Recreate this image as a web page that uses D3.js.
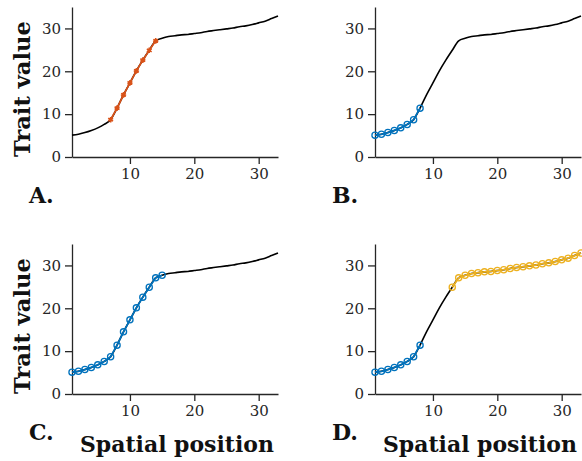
<!DOCTYPE html>
<html>
<head>
<meta charset="utf-8">
<script src="https://cdn.jsdelivr.net/npm/d3@7"></script>
<style>
  body { margin: 0; background: #fff; }
  .axis path, .axis line { stroke: #262626; stroke-width: 1.3; }
  .axis text { font-family: "DejaVu Serif", serif; font-size: 15px; fill: #262626; }
  .lbl { font-family: "DejaVu Serif", serif; font-weight: bold; fill: #111; }
</style>
</head>
<body>
<svg id="chart" width="582" height="461"></svg>
<script>
// spatial positions and the trait value at each one
var positions = [1, 2, 3, 4, 5, 6, 7, 8, 9, 10, 11, 12, 13, 14, 15, 16, 17,
                 18, 19, 20, 21, 22, 23, 24, 25, 26, 27, 28, 29, 30, 31, 32, 33];
var traitValues = [5.1, 5.3, 5.7, 6.2, 6.8, 7.6, 8.7, 11.4, 14.5, 17.3, 20.1, 22.6, 24.9,
                   27.1, 27.7, 28.1, 28.3, 28.5, 28.6, 28.8, 29.0, 29.3, 29.5, 29.7, 29.9,
                   30.1, 30.4, 30.6, 30.9, 31.3, 31.7, 32.3, 32.9];

// highlighted stretches per panel: [first position, last position, kind]
var panelA = [[7, 14, 'orange']];
var panelB = [[1, 8, 'blue']];
var panelC = [[1, 15, 'blue']];
var panelD = [[1, 8, 'blue'], [13, 33, 'yellow']];

var xTicks = [10, 20, 30];
var yTicks = [0, 10, 20, 30];
var xDomain = [1, 33];
var yDomain = [0, 35];

var colors = { orange: '#D95319', blue: '#0072BD', yellow: '#EDB120' };

var data = positions.map(function(p, i) { return { x: p, y: traitValues[i] }; });

var svg = d3.select('#chart');

var panels = [
  { name: 'A.', segs: panelA, left: 72, top: 7, bottom: 157, ylabel: true, xlabel: false },
  { name: 'B.', segs: panelB, left: 375, top: 7, bottom: 157, ylabel: false, xlabel: false },
  { name: 'C.', segs: panelC, left: 72, top: 244, bottom: 394, ylabel: true, xlabel: true },
  { name: 'D.', segs: panelD, left: 375, top: 244, bottom: 394, ylabel: false, xlabel: true }
];

// shrink a label's font until it fits the width it has in the figure
function fitText(sel, width) {
  var size = 25;
  sel.style('font-size', size + 'px');
  var w = sel.node().getComputedTextLength();
  if (w > width) sel.style('font-size', (size * width / w) + 'px');
}

panels.forEach(function(p) {
  var x = d3.scaleLinear().domain(xDomain).range([p.left, p.left + 206]);
  var y = d3.scaleLinear().domain(yDomain).range([p.bottom, p.top]);

  var g = svg.append('g');

  g.append('g')
    .attr('class', 'axis')
    .attr('transform', 'translate(0,' + p.bottom + ')')
    .call(d3.axisBottom(x).tickValues(xTicks).tickSize(7).tickSizeOuter(0).tickPadding(4));

  g.append('g')
    .attr('class', 'axis')
    .attr('transform', 'translate(' + p.left + ',0)')
    .call(d3.axisLeft(y).tickValues(yTicks).tickSize(7).tickSizeOuter(0).tickPadding(4));

  g.selectAll('.axis').attr('font-family', null);

  var line = d3.line().x(function(d) { return x(d.x); }).y(function(d) { return y(d.y); });

  // full curve underneath
  g.append('path')
    .datum(data)
    .attr('fill', 'none')
    .attr('stroke', '#000')
    .attr('stroke-width', 1.6)
    .attr('d', line.curve(d3.curveMonotoneX));
  line.curve(d3.curveLinear);

  p.segs.forEach(function(s) {
    var sub = data.filter(function(d) { return d.x >= s[0] && d.x <= s[1]; });
    var c = colors[s[2]];
    g.append('path')
      .datum(sub)
      .attr('fill', 'none')
      .attr('stroke', c)
      .attr('stroke-width', 1.8)
      .attr('d', line);

    if (s[2] === 'orange') {
      g.selectAll(null)
        .data(sub)
        .enter().append('path')
        .attr('transform', function(d) { return 'translate(' + x(d.x) + ',' + y(d.y) + ')'; })
        .attr('d', d3.symbol(d3.symbolAsterisk, 22))
        .attr('fill', 'none')
        .attr('stroke', c)
        .attr('stroke-width', 1.6);
      g.selectAll(null)
        .data(sub)
        .enter().append('circle')
        .attr('cx', function(d) { return x(d.x); })
        .attr('cy', function(d) { return y(d.y); })
        .attr('r', 1.8)
        .attr('fill', c);
    } else {
      g.selectAll(null)
        .data(sub)
        .enter().append('circle')
        .attr('cx', function(d) { return x(d.x); })
        .attr('cy', function(d) { return y(d.y); })
        .attr('r', 3.1)
        .attr('fill', 'none')
        .attr('stroke', c)
        .attr('stroke-width', 1.3);
    }
  });

  // panel letter
  g.append('text')
    .attr('class', 'lbl')
    .attr('x', p.left - 43)
    .attr('y', p.bottom + 46)
    .style('font-size', '22px')
    .text(p.name);

  if (p.ylabel) {
    g.append('text')
      .attr('class', 'lbl')
      .attr('transform', 'translate(30,' + ((p.top + p.bottom) / 2 + 7) + ') rotate(-90)')
      .attr('text-anchor', 'middle')
      .text('Trait value')
      .call(fitText, 136);
  }

  if (p.xlabel) {
    g.append('text')
      .attr('class', 'lbl')
      .attr('x', p.left + 8)
      .attr('y', 452)
      .text('Spatial position')
      .call(fitText, 194);
  }
});
</script>
</body>
</html>
